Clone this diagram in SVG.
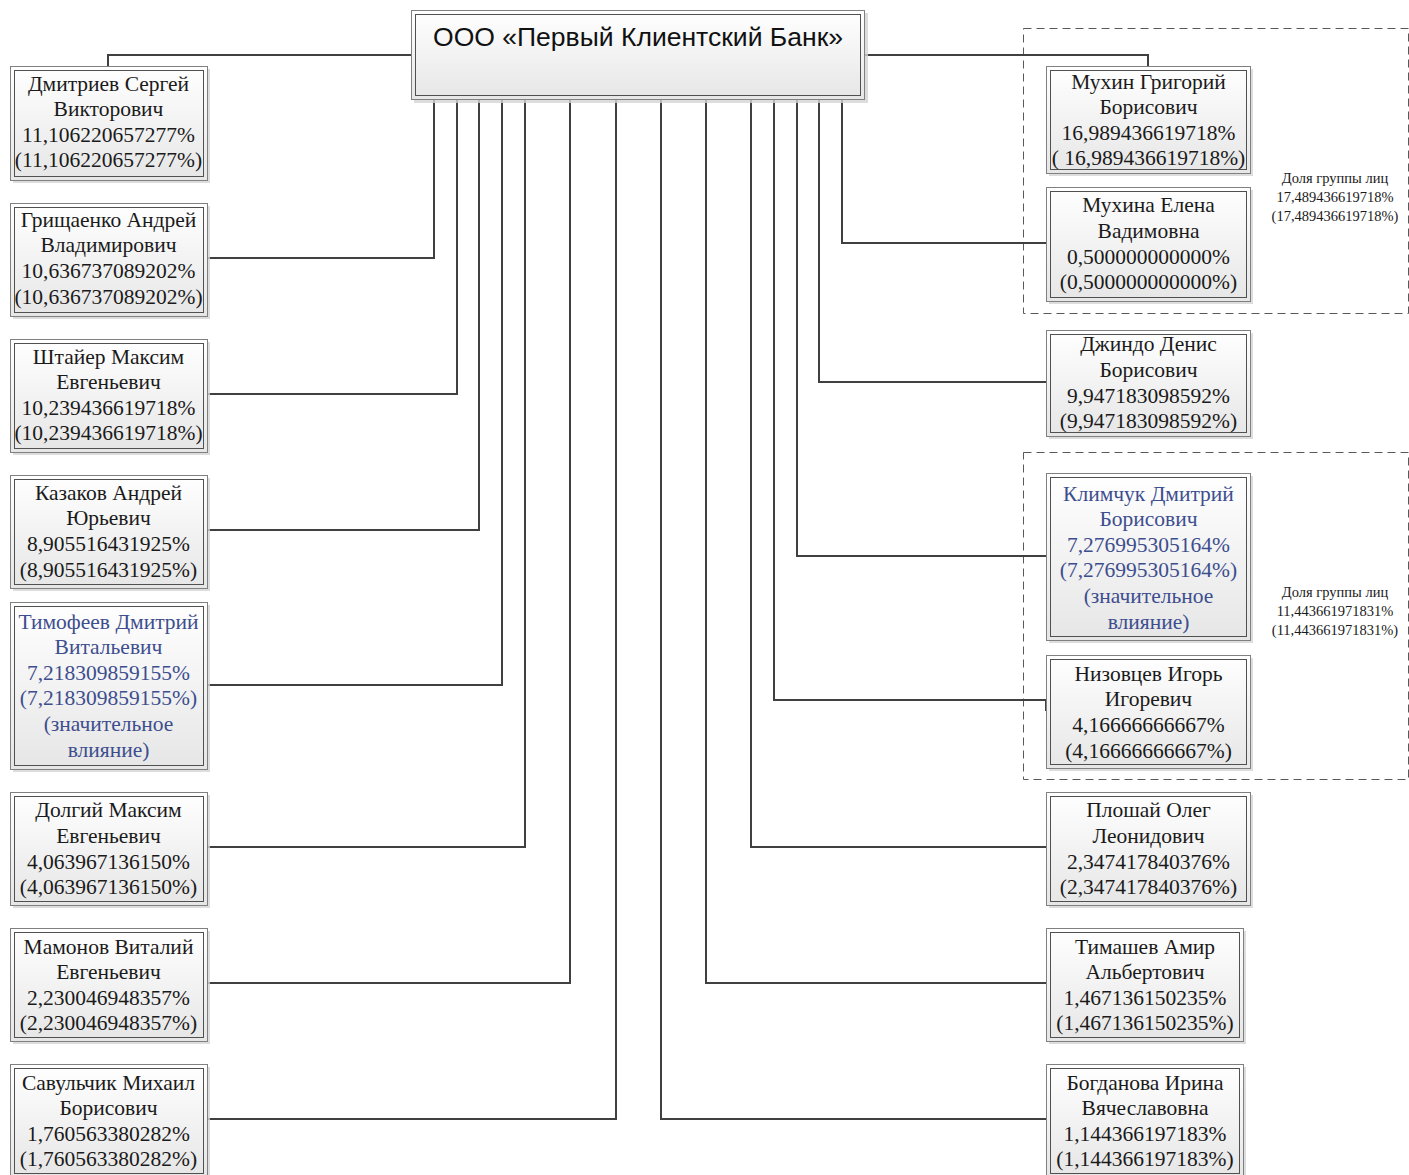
<svg xmlns="http://www.w3.org/2000/svg" width="1409" height="1175" viewBox="0 0 1409 1175">
<defs>
<linearGradient id="bg" x1="0" y1="0" x2="0" y2="1">
<stop offset="0" stop-color="#ffffff"/>
<stop offset="1" stop-color="#e6e6e6"/>
</linearGradient>
<style>
.sh{fill:#d4d4d4;opacity:0.8}
.o{fill:url(#bg);stroke:#808080;stroke-width:1}
.i{fill:none;stroke:#505050;stroke-width:1}
.t{font-family:"Liberation Serif","Times New Roman",serif;font-size:21.5px;fill:#1a1a1a;text-anchor:middle}
.b{fill:#3d4e8e}
.g{font-family:"Liberation Serif","Times New Roman",serif;font-size:14.5px;fill:#1a1a1a;text-anchor:middle}
.c{fill:none;stroke:#404040;stroke-width:2}
.d{fill:none;stroke:#595959;stroke-width:1;stroke-dasharray:8,5}
</style>
</defs>
<rect width="1409" height="1175" fill="#ffffff"/>

<g id="groups">
<rect class="d" x="1023.5" y="28.5" width="385" height="285"/>
<text class="g" x="1335" y="183">Доля группы лиц</text>
<text class="g" x="1335" y="202">17,489436619718%</text>
<text class="g" x="1335" y="221">(17,489436619718%)</text>
<rect class="d" x="1023.5" y="452.5" width="385" height="327"/>
<text class="g" x="1335" y="597">Доля группы лиц</text>
<text class="g" x="1335" y="616">11,443661971831%</text>
<text class="g" x="1335" y="635">(11,443661971831%)</text>
</g>

<g id="connectors">
<path class="c" d="M411,55 H108 V66"/>
<path class="c" d="M865,55 H1148 V66"/>
<path class="c" d="M434,100 V258 H207"/>
<path class="c" d="M457,100 V394 H207"/>
<path class="c" d="M479,100 V530 H207"/>
<path class="c" d="M502,100 V685 H207"/>
<path class="c" d="M525,100 V847 H207"/>
<path class="c" d="M570,100 V983 H207"/>
<path class="c" d="M616,100 V1119 H207"/>
<path class="c" d="M661,100 V1119 H1046"/>
<path class="c" d="M706,100 V983 H1046"/>
<path class="c" d="M751,100 V847 H1046"/>
<path class="c" d="M774,100 V700 H1046 V711"/>
<path class="c" d="M797,100 V556 H1046"/>
<path class="c" d="M819,100 V382 H1046"/>
<path class="c" d="M842,100 V243 H1046"/>
</g>

<g id="bank">
<rect class="sh" x="414" y="13" width="454" height="90"/>
<rect class="o" x="411.5" y="10.5" width="453" height="89"/>
<rect class="i" x="415.5" y="14.5" width="445" height="81"/>
<text x="638" y="46" font-family="'Liberation Sans',Arial,sans-serif" font-size="25" fill="#111" text-anchor="middle" textLength="410" lengthAdjust="spacingAndGlyphs">ООО «Первый Клиентский Банк»</text>
</g>

<g id="dmitriev">
<rect class="sh" x="13" y="69" width="197" height="114"/>
<rect class="o" x="10.5" y="66.5" width="197" height="114"/>
<rect class="i" x="14.5" y="70.5" width="189" height="106"/>
<text class="t" x="108.5" y="91">Дмитриев Сергей</text>
<text class="t" x="108.5" y="116">Викторович</text>
<text class="t" x="108.5" y="142">11,106220657277%</text>
<text class="t" x="108.5" y="167">(11,106220657277%)</text>
</g>

<g id="gritsaenko">
<rect class="sh" x="13" y="206" width="197" height="113"/>
<rect class="o" x="10.5" y="203.5" width="197" height="113"/>
<rect class="i" x="14.5" y="207.5" width="189" height="105"/>
<text class="t" x="108.5" y="227">Грищаенко Андрей</text>
<text class="t" x="108.5" y="252">Владимирович</text>
<text class="t" x="108.5" y="278">10,636737089202%</text>
<text class="t" x="108.5" y="304">(10,636737089202%)</text>
</g>

<g id="shtayer">
<rect class="sh" x="13" y="342" width="197" height="113"/>
<rect class="o" x="10.5" y="339.5" width="197" height="113"/>
<rect class="i" x="14.5" y="343.5" width="189" height="105"/>
<text class="t" x="108.5" y="364">Штайер Максим</text>
<text class="t" x="108.5" y="389">Евгеньевич</text>
<text class="t" x="108.5" y="415">10,239436619718%</text>
<text class="t" x="108.5" y="440">(10,239436619718%)</text>
</g>

<g id="kazakov">
<rect class="sh" x="13" y="478" width="197" height="113"/>
<rect class="o" x="10.5" y="475.5" width="197" height="113"/>
<rect class="i" x="14.5" y="479.5" width="189" height="105"/>
<text class="t" x="108.5" y="500">Казаков Андрей</text>
<text class="t" x="108.5" y="525">Юрьевич</text>
<text class="t" x="108.5" y="551">8,905516431925%</text>
<text class="t" x="108.5" y="577">(8,905516431925%)</text>
</g>

<g id="timofeev">
<rect class="sh" x="13" y="605" width="197" height="167"/>
<rect class="o" x="10.5" y="602.5" width="197" height="167"/>
<rect class="i" x="14.5" y="606.5" width="189" height="159"/>
<text class="t b" x="108.5" y="629">Тимофеев Дмитрий</text>
<text class="t b" x="108.5" y="654">Витальевич</text>
<text class="t b" x="108.5" y="680">7,218309859155%</text>
<text class="t b" x="108.5" y="705">(7,218309859155%)</text>
<text class="t b" x="108.5" y="731">(значительное</text>
<text class="t b" x="108.5" y="757">влияние)</text>
</g>

<g id="dolgiy">
<rect class="sh" x="13" y="795" width="197" height="113"/>
<rect class="o" x="10.5" y="792.5" width="197" height="113"/>
<rect class="i" x="14.5" y="796.5" width="189" height="105"/>
<text class="t" x="108.5" y="817">Долгий Максим</text>
<text class="t" x="108.5" y="843">Евгеньевич</text>
<text class="t" x="108.5" y="869">4,063967136150%</text>
<text class="t" x="108.5" y="894">(4,063967136150%)</text>
</g>

<g id="mamonov">
<rect class="sh" x="13" y="931" width="197" height="113"/>
<rect class="o" x="10.5" y="928.5" width="197" height="113"/>
<rect class="i" x="14.5" y="932.5" width="189" height="105"/>
<text class="t" x="108.5" y="954">Мамонов Виталий</text>
<text class="t" x="108.5" y="979">Евгеньевич</text>
<text class="t" x="108.5" y="1005">2,230046948357%</text>
<text class="t" x="108.5" y="1030">(2,230046948357%)</text>
</g>

<g id="savulchik">
<rect class="sh" x="13" y="1067" width="197" height="113"/>
<rect class="o" x="10.5" y="1064.5" width="197" height="113"/>
<rect class="i" x="14.5" y="1068.5" width="189" height="105"/>
<text class="t" x="108.5" y="1090">Савульчик Михаил</text>
<text class="t" x="108.5" y="1115">Борисович</text>
<text class="t" x="108.5" y="1141">1,760563380282%</text>
<text class="t" x="108.5" y="1166">(1,760563380282%)</text>
</g>

<g id="mukhin">
<rect class="sh" x="1049" y="69" width="204" height="107"/>
<rect class="o" x="1046.5" y="66.5" width="204" height="107"/>
<rect class="i" x="1050.5" y="70.5" width="196" height="99"/>
<text class="t" x="1148.5" y="89">Мухин Григорий</text>
<text class="t" x="1148.5" y="114">Борисович</text>
<text class="t" x="1148.5" y="140"> 16,989436619718%</text>
<text class="t" x="1148.5" y="165">( 16,989436619718%)</text>
</g>

<g id="mukhina">
<rect class="sh" x="1049" y="190" width="204" height="114"/>
<rect class="o" x="1046.5" y="187.5" width="204" height="114"/>
<rect class="i" x="1050.5" y="191.5" width="196" height="106"/>
<text class="t" x="1148.5" y="212">Мухина Елена</text>
<text class="t" x="1148.5" y="238">Вадимовна</text>
<text class="t" x="1148.5" y="264">0,500000000000%</text>
<text class="t" x="1148.5" y="289">(0,500000000000%)</text>
</g>

<g id="dzhindo">
<rect class="sh" x="1049" y="333" width="204" height="106"/>
<rect class="o" x="1046.5" y="330.5" width="204" height="106"/>
<rect class="i" x="1050.5" y="334.5" width="196" height="98"/>
<text class="t" x="1148.5" y="351">Джиндо Денис</text>
<text class="t" x="1148.5" y="377">Борисович</text>
<text class="t" x="1148.5" y="403">9,947183098592%</text>
<text class="t" x="1148.5" y="428">(9,947183098592%)</text>
</g>

<g id="klimchuk">
<rect class="sh" x="1049" y="476" width="204" height="167"/>
<rect class="o" x="1046.5" y="473.5" width="204" height="167"/>
<rect class="i" x="1050.5" y="477.5" width="196" height="159"/>
<text class="t b" x="1148.5" y="501">Климчук Дмитрий</text>
<text class="t b" x="1148.5" y="526">Борисович</text>
<text class="t b" x="1148.5" y="552">7,276995305164%</text>
<text class="t b" x="1148.5" y="577">(7,276995305164%)</text>
<text class="t b" x="1148.5" y="603">(значительное</text>
<text class="t b" x="1148.5" y="629">влияние)</text>
</g>

<g id="nizovtsev">
<rect class="sh" x="1049" y="658" width="204" height="113"/>
<rect class="o" x="1046.5" y="655.5" width="204" height="113"/>
<rect class="i" x="1050.5" y="659.5" width="196" height="105"/>
<text class="t" x="1148.5" y="681">Низовцев Игорь</text>
<text class="t" x="1148.5" y="706">Игоревич</text>
<text class="t" x="1148.5" y="732">4,16666666667%</text>
<text class="t" x="1148.5" y="758">(4,16666666667%)</text>
</g>

<g id="ploshay">
<rect class="sh" x="1049" y="795" width="204" height="113"/>
<rect class="o" x="1046.5" y="792.5" width="204" height="113"/>
<rect class="i" x="1050.5" y="796.5" width="196" height="105"/>
<text class="t" x="1148.5" y="817">Плошай Олег</text>
<text class="t" x="1148.5" y="843">Леонидович</text>
<text class="t" x="1148.5" y="869">2,347417840376%</text>
<text class="t" x="1148.5" y="894">(2,347417840376%)</text>
</g>

<g id="timashev">
<rect class="sh" x="1049" y="931" width="197" height="113"/>
<rect class="o" x="1046.5" y="928.5" width="197" height="113"/>
<rect class="i" x="1050.5" y="932.5" width="189" height="105"/>
<text class="t" x="1145" y="954">Тимашев Амир</text>
<text class="t" x="1145" y="979">Альбертович</text>
<text class="t" x="1145" y="1005">1,467136150235%</text>
<text class="t" x="1145" y="1030">(1,467136150235%)</text>
</g>

<g id="bogdanova">
<rect class="sh" x="1049" y="1067" width="197" height="113"/>
<rect class="o" x="1046.5" y="1064.5" width="197" height="113"/>
<rect class="i" x="1050.5" y="1068.5" width="189" height="105"/>
<text class="t" x="1145" y="1090">Богданова Ирина</text>
<text class="t" x="1145" y="1115">Вячеславовна</text>
<text class="t" x="1145" y="1141">1,144366197183%</text>
<text class="t" x="1145" y="1166">(1,144366197183%)</text>
</g>
</svg>
